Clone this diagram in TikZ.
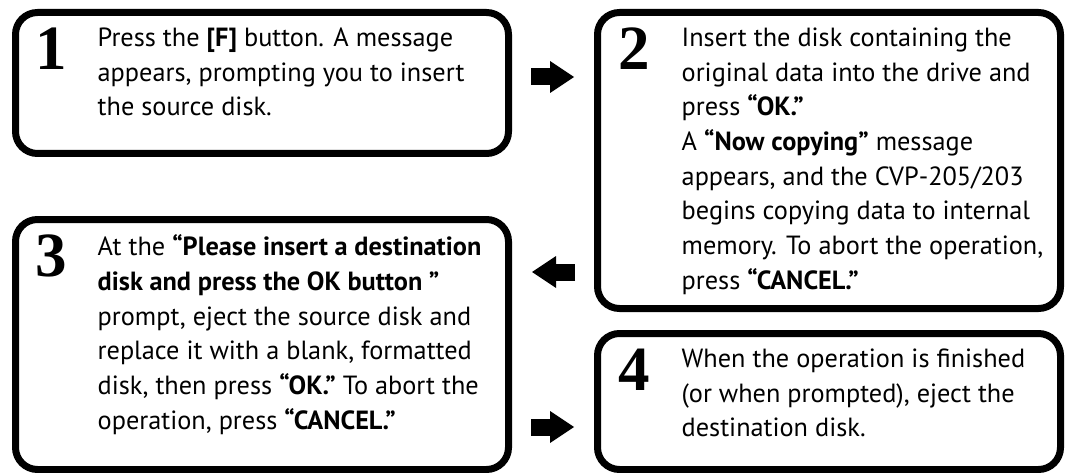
\documentclass[tikz,border=0pt]{standalone}
\usepackage{fontspec}
\setmainfont{PT Sans}
\newfontfamily\stepnumfont{Liberation Serif}
\usetikzlibrary{arrows.meta, positioning, calc}

\begin{document}
\begin{tikzpicture}[
    x=1pt, y=-1pt,
    stepbox/.style={rectangle, draw=black, line width=7pt, rounded corners=22pt, outer sep=0pt, inner sep=0pt},
    stepnum/.style={anchor=north, inner sep=0pt, font=\stepnumfont\bfseries\fontsize{63}{63}\selectfont},
    steptext/.style={anchor=north west, inner sep=0pt, align=left, font=\fontsize{26.3}{34.7}\selectfont},
    flowarrow/.style={line width=17pt, -{Triangle[width=32pt, length=24pt, line width=0pt]}}
]
    \useasboundingbox (0,0) rectangle (1065,473);

    % Boxes
    \node[stepbox, minimum width=493pt, minimum height=141pt] (step1) at (262,83) {};
    \node[stepbox, minimum width=463pt, minimum height=296pt] (step2) at (829,160.5) {};
    \node[stepbox, minimum width=493pt, minimum height=250pt] (step3) at (262,344.5) {};
    \node[stepbox, minimum width=463pt, minimum height=136pt] (step4) at (829,401.5) {};

    % Step numbers
    \node[stepnum] (num1) at ($(step1.north west)+(36,15.5)$) {1};
    \node[stepnum] (num2) at ($(step2.north west)+(37,15.5)$) {2};
    \node[stepnum] (num3) at ($(step3.north west)+(36,15.5)$) {3};
    \node[stepnum] (num4) at ($(step4.north west)+(37,15.5)$) {4};

    % Step texts
    \node[steptext] (text1) at ($(step1.north west)+(82,15)$) {Press the \textbf{[F]} button. A message\\appears, prompting you to insert\\the source disk.};
    \node[steptext] (text2) at ($(step2.north west)+(84,15)$) {Insert the disk containing the\\original data into the drive and\\press \textbf{“OK.”}\\A \textbf{“Now copying”} message\\appears, and the CVP-205/203\\begins copying data to internal\\memory. To abort the operation,\\press \textbf{“CANCEL.”}};
    \node[steptext] (text3) at ($(step3.north west)+(82,15)$) {At the \textbf{“Please insert a destination}\\\textbf{disk and press the OK button ”}\\prompt, eject the source disk and\\replace it with a blank, formatted\\disk, then press \textbf{“OK.”} To abort the\\operation, press \textbf{“CANCEL.”}};
    \node[steptext] (text4) at ($(step4.north west)+(84,15)$) {When the operation is finished\\(or when prompted), eject the\\destination disk.};

    % Arrows
    \draw[flowarrow] ($(step1.east)+(22.5,-6)$) -- ($(step1.east -| step2.west)+(-23.5,-6)$);
    \draw[flowarrow] ($(step3.east -| step2.west)+(-22.5,-72.5)$) -- ($(step3.east)+(23.5,-72.5)$);
    \draw[flowarrow] ($(step4.west -| step3.east)+(22.5,25.5)$) -- ($(step4.west)+(-23.5,25.5)$);
\end{tikzpicture}
\end{document}
